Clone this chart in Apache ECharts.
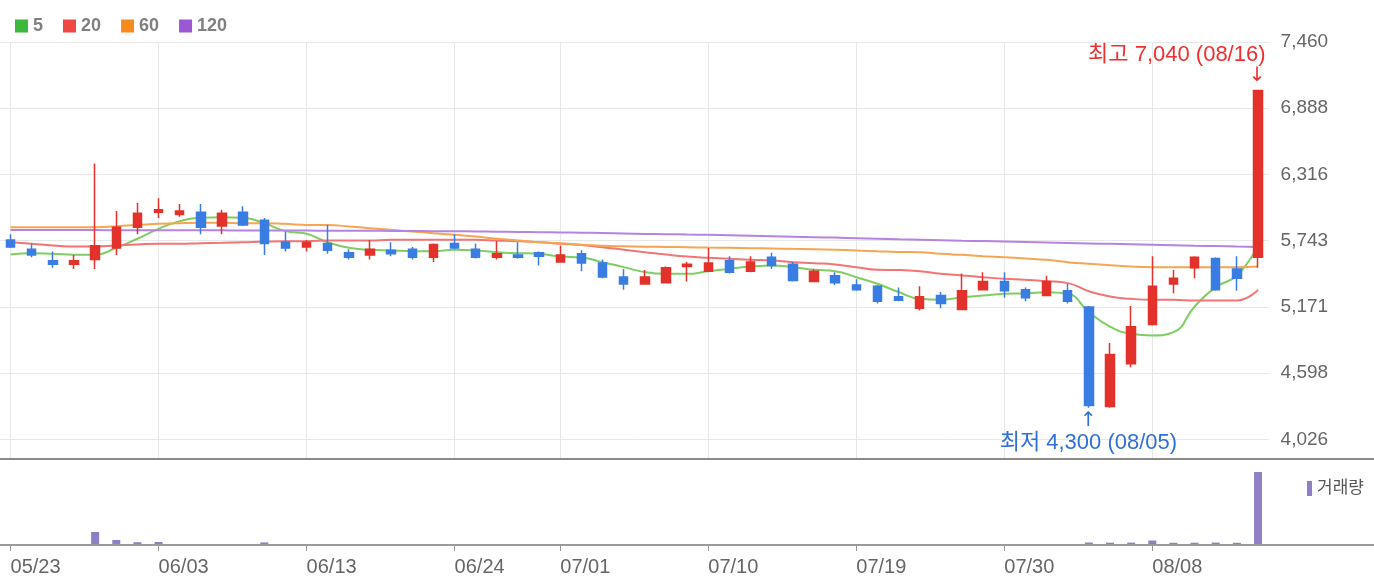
<!DOCTYPE html>
<html>
<head>
<meta charset="utf-8">
<script src="https://cdn.jsdelivr.net/npm/echarts@6/dist/echarts.min.js"></script>
<style>
html,body{margin:0;padding:0;background:#fff;}
#main{width:1374px;height:586px;}
</style>
</head>
<body>
<div id="main"></div>
<script>
// 일자 (2024 거래일)
var dates = ['05/23','05/24','05/27','05/28','05/29','05/30','05/31',
    '06/03','06/04','06/05','06/07','06/10','06/11','06/12','06/13','06/14','06/17','06/18','06/19','06/20','06/21','06/24','06/25','06/26','06/27','06/28',
    '07/01','07/02','07/03','07/04','07/05','07/08','07/09','07/10','07/11','07/12','07/15','07/16','07/17','07/18','07/19','07/22','07/23','07/24','07/25','07/26','07/29','07/30','07/31',
    '08/01','08/02','08/05','08/06','08/07','08/08','08/09','08/12','08/13','08/14','08/16'];
var labelDates = ['05/23','06/03','06/13','06/24','07/01','07/10','07/19','07/30','08/08'];

// 시가/종가/저가/고가
var opens  = [5750,5670,5570,5540,5580,5680,5860,5990,5970,5990,5870,5990,5920,5730,5690,5720,5640,5620,5660,5670,
              5600,5720,5670,5600,5620,5640,5560,5630,5550,5430,5370,5380,5520,5480,5570,5480,5600,5540,5390,5440,
              5360,5350,5260,5160,5270,5150,5320,5390,5320,5270,5310,5170,4310,4680,5020,5370,5510,5590,5500,5600];
var closes = [5690,5620,5540,5570,5700,5860,5980,6010,6000,5860,5980,5880,5720,5680,5730,5660,5600,5670,5630,5600,
              5710,5680,5600,5630,5600,5610,5620,5550,5430,5370,5430,5510,5540,5550,5470,5560,5530,5400,5480,5380,
              5320,5220,5230,5260,5200,5310,5390,5310,5250,5390,5220,4320,4760,5000,5350,5420,5600,5320,5420,7040];
var lows   = [5680,5600,5510,5500,5500,5620,5800,5940,5950,5800,5800,5870,5620,5650,5650,5630,5580,5580,5610,5580,
              5560,5670,5590,5580,5590,5530,5560,5480,5420,5320,5370,5380,5390,5480,5460,5470,5500,5390,5390,5360,
              5310,5200,5220,5140,5160,5150,5320,5250,5220,5270,5200,4300,4300,4650,5010,5290,5420,5310,5310,5510];
var highs  = [5800,5720,5650,5620,6410,6000,6070,6110,6060,6060,6010,6040,5940,5820,5750,5880,5670,5750,5730,5690,
              5720,5800,5720,5740,5730,5650,5700,5660,5580,5500,5490,5520,5560,5680,5610,5610,5640,5560,5500,5470,
              5410,5360,5340,5350,5300,5460,5470,5470,5340,5440,5370,5180,4860,5180,5610,5490,5610,5600,5610,7040];

// 이동평균선
var ma5   = [5624,5635,5630,5622,5622,5682,5760,5846,5912,5941,5946,5941,5895,5826,5803,5730,5682,5665,5659,5653,
             5653,5665,5659,5644,5636,5630,5607,5598,5558,5515,5472,5457,5457,5480,5500,5520,5529,5515,5492,5480,
             5428,5371,5300,5241,5233,5255,5270,5285,5290,5298,5285,5126,5002,4939,4925,4953,5175,5342,5443,5700];
var ma20  = [5730,5717,5702,5693,5693,5702,5711,5717,5717,5722,5725,5730,5736,5739,5739,5745,5745,5745,5751,5751,
             5751,5751,5751,5745,5739,5730,5717,5706,5687,5665,5644,5624,5607,5596,5587,5578,5572,5558,5549,5538,
             5515,5492,5490,5480,5457,5443,5428,5414,5406,5394,5377,5307,5261,5241,5233,5233,5227,5227,5227,5319];
var ma60  = [5860,5860,5860,5860,5860,5869,5880,5889,5895,5898,5898,5895,5895,5889,5880,5880,5866,5852,5837,5823,
             5808,5794,5780,5760,5745,5730,5722,5708,5699,5695,5692,5690,5687,5684,5682,5679,5676,5673,5670,5665,
             5659,5652,5646,5644,5630,5621,5610,5601,5590,5578,5558,5544,5532,5520,5515,5515,5515,5515,5515,5520];
var ma120 = [5836,5836,5835,5835,5835,5834,5834,5834,5833,5833,5833,5832,5832,5832,5831,5830,5830,5829,5828,5827,
             5826,5825,5823,5821,5819,5817,5815,5813,5810,5806,5802,5800,5797,5794,5790,5786,5782,5778,5774,5770,
             5765,5760,5755,5751,5747,5743,5740,5736,5732,5728,5724,5720,5716,5712,5708,5704,5700,5697,5693,5690];

// 거래량
var volumes = [40,35,25,30,1300,500,280,300,90,70,60,80,260,60,40,50,30,45,30,35,
               40,50,30,25,30,40,45,35,30,40,35,50,30,45,40,30,35,45,30,40,
               35,50,45,40,35,60,45,40,35,50,60,250,230,240,450,220,230,240,220,7300];

// 가격축 눈금
var yTicks = [4026,4598,5171,5743,6316,6888,7460];
var yTickLabels = ['4,026','4,598','5,171','5,743','6,316','6,888','7,460'];

var RED = '#e2322b', BLUE = '#3a7de2';
var yMin = 3857.5, yMax = yTicks[yTicks.length - 1];

var candleData = opens.map(function (o, i) { return [o, closes[i], lows[i], highs[i]]; });

var hiIdx = 0, loIdx = 0;
highs.forEach(function (h, i) { if (h > highs[hiIdx]) hiIdx = i; });
lows.forEach(function (l, i) { if (l < lows[loIdx]) loIdx = i; });
function fmt(v) { return v.toLocaleString('en-US'); }
var hiText = '최고 ' + fmt(highs[hiIdx]) + ' (' + dates[hiIdx] + ')';
var loText = '최저 ' + fmt(lows[loIdx]) + ' (' + dates[loIdx] + ')';

function showDate(index, value) { return labelDates.indexOf(value) >= 0; }

var FONT = "'Liberation Sans', 'Noto Sans CJK KR', sans-serif";
var ARROW_FONT = "'DejaVu Sans', sans-serif";
// 가격 영역: 7,460 선(top) ~ 4,026 선 까지가 눈금 6칸
var priceTop = 42, priceBottom = 459;
var tickArea = (priceBottom - priceTop) * (yTicks[yTicks.length - 1] - yTicks[0]) / (yMax - yMin);

var chart = echarts.init(document.getElementById('main'));
var option = {
    animation: false,
    textStyle: { fontFamily: FONT },
    legend: [{
        data: ['5', '20', '60', '120'],
        left: 10, top: 12,
        icon: 'rect', itemWidth: 13, itemHeight: 13, itemGap: 20,
        textStyle: { color: '#808080', fontSize: 18, fontWeight: 'bold', fontFamily: FONT }
    }, {
        data: ['거래량'],
        left: 1302, top: 475,
        icon: 'rect', itemWidth: 5, itemHeight: 15,
        textStyle: { color: '#555', fontSize: 17, fontFamily: FONT }
    }],
    grid: [
        { right: 105.4, width: 1271.2, top: priceTop, height: priceBottom - priceTop },
        { right: 105.4, width: 1271.2, top: priceBottom, height: 86 },
        { right: 105.4, width: 1271.2, top: priceTop, height: tickArea }
    ],
    xAxis: [{
        type: 'category', gridIndex: 0, data: dates,
        axisLine: { show: false }, axisTick: { show: false }, axisLabel: { show: false },
        splitLine: { show: true, interval: showDate, alignWithLabel: true, lineStyle: { color: '#e8e8e8', width: 1 } }
    }, {
        type: 'category', gridIndex: 1, data: dates,
        axisLine: { show: false },
        axisTick: { show: true, interval: showDate, alignWithLabel: true, length: 6, lineStyle: { color: '#999' } },
        axisLabel: { interval: showDate, align: 'left', margin: 12, color: '#666', fontSize: 20, fontFamily: FONT },
        splitLine: { show: false }
    }, {
        type: 'category', gridIndex: 2, data: dates, show: false
    }],
    yAxis: [{
        type: 'value', gridIndex: 0, min: yMin, max: yMax, show: false
    }, {
        type: 'value', gridIndex: 2, position: 'right', min: 0, max: yTicks.length - 1, interval: 1,
        axisLine: { show: false }, axisTick: { show: false },
        axisLabel: {
            align: 'left', margin: 12, color: '#666', fontSize: 19, fontFamily: FONT,
            formatter: function (v) { return yTickLabels[Math.round(v)] || ''; }
        },
        splitLine: { show: true, lineStyle: { color: '#e8e8e8', width: 1 } }
    }, {
        type: 'value', gridIndex: 1, min: 0, max: 8600, show: false
    }],
    graphic: [
        { type: 'line', shape: { x1: 0, y1: priceBottom, x2: 1374, y2: priceBottom }, style: { stroke: '#8a8a8a', lineWidth: 2 }, z: 100 },
        { type: 'line', shape: { x1: 0, y1: 545, x2: 1374, y2: 545 }, style: { stroke: '#9a9a9a', lineWidth: 2 }, z: 100 }
    ],
    series: [{
        name: '5', type: 'line', xAxisIndex: 0, yAxisIndex: 0, data: ma5,
        showSymbol: false, smooth: true, z: 2,
        itemStyle: { color: '#3cb83c' }, lineStyle: { color: '#7fcd63', width: 2 }
    }, {
        name: '20', type: 'line', xAxisIndex: 0, yAxisIndex: 0, data: ma20,
        showSymbol: false, smooth: true, z: 2,
        itemStyle: { color: '#ef4646' }, lineStyle: { color: '#f27474', width: 2 }
    }, {
        name: '60', type: 'line', xAxisIndex: 0, yAxisIndex: 0, data: ma60,
        showSymbol: false, smooth: true, z: 2,
        itemStyle: { color: '#f78a1d' }, lineStyle: { color: '#f7a552', width: 2 }
    }, {
        name: '120', type: 'line', xAxisIndex: 0, yAxisIndex: 0, data: ma120,
        showSymbol: false, smooth: true, z: 2,
        itemStyle: { color: '#9a58d4' }, lineStyle: { color: '#b583e2', width: 2 }
    }, {
        name: 'price', type: 'candlestick', xAxisIndex: 0, yAxisIndex: 0, data: candleData,
        barWidth: 9, z: 3,
        itemStyle: { color: RED, color0: BLUE, borderColor: RED, borderColor0: BLUE, borderWidth: 1.5 },
        markPoint: {
            symbol: 'circle', symbolSize: 1, silent: true, animation: false,
            itemStyle: { color: 'rgba(0,0,0,0)' },
            data: [{
                coord: [hiIdx, highs[hiIdx]],
                label: {
                    show: true, position: [8, -4], align: 'right', verticalAlign: 'bottom',
                    formatter: '{t|' + hiText + '}\n{a|↓}',
                    rich: {
                        t: { color: '#ee3030', fontSize: 22, lineHeight: 22, fontFamily: FONT },
                        a: { color: '#ee3030', fontSize: 20, lineHeight: 20, fontFamily: ARROW_FONT }
                    }
                }
            }, {
                coord: [loIdx, lows[loIdx]],
                label: {
                    show: true, position: [0, 4], align: 'center', verticalAlign: 'top',
                    formatter: '{a|↑}\n{t|' + loText + '}',
                    rich: {
                        t: { color: '#2f70d8', fontSize: 22, lineHeight: 24, fontFamily: FONT },
                        a: { color: '#2f70d8', fontSize: 20, lineHeight: 20, fontFamily: ARROW_FONT }
                    }
                }
            }]
        }
    }, {
        name: '거래량', type: 'bar', xAxisIndex: 1, yAxisIndex: 2, data: volumes,
        barWidth: 8, itemStyle: { color: '#8f7fc5' }
    }]
};
chart.setOption(option);
</script>
</body>
</html>
